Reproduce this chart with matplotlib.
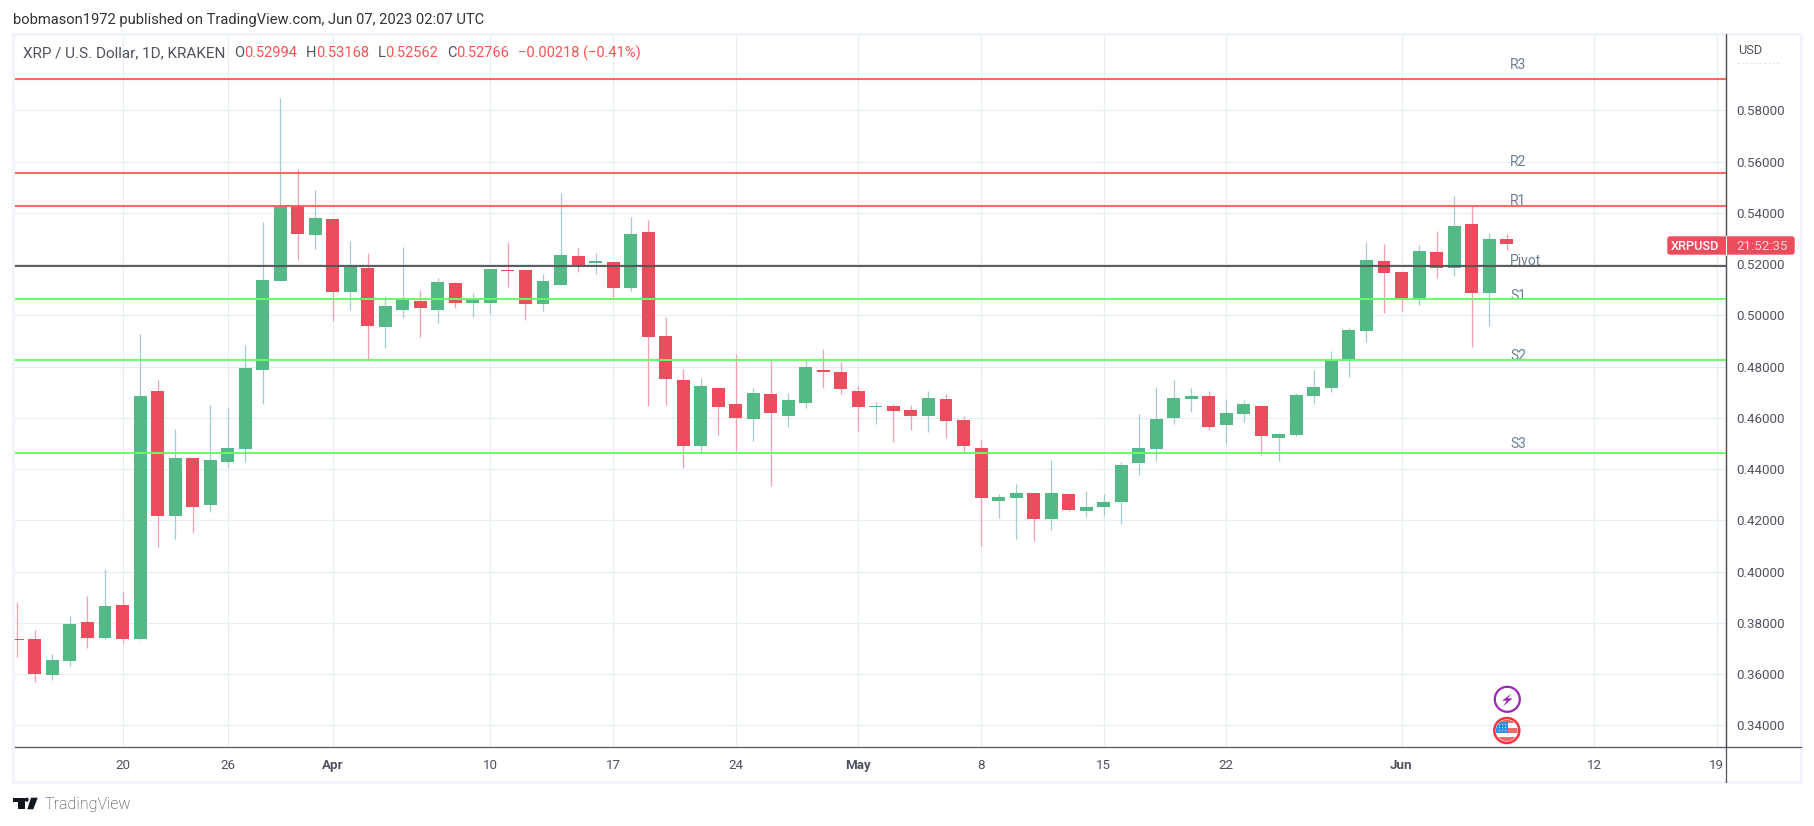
import numpy as np
import matplotlib
matplotlib.use("Agg")
import matplotlib.pyplot as plt
from matplotlib.patches import Rectangle, Circle, FancyBboxPatch, Polygon

plt.rcParams['font.family'] = ['Roboto', 'DejaVu Sans']

# XRP/USD daily candles (14 Mar - 7 Jun 2023)
opens = [.3737, .3737, .3596, .3651, .3803, .3741, .3870, .3737, .4705, .4217,
         .4443, .4260, .4428, .4478, .4787, .5134, .5427, .5314, .5376, .5091,
         .5185, .4955, .5021, .5056, .5021, .5126, .5048, .5048, .5177, .5177,
         .5044, .5118, .5232, .5204, .5208, .5107, .5325, .4919, .4748, .4490,
         .4716, .4654, .4595, .4693, .4607, .4658, .4787, .4779, .4705, .4642,
         .4646, .4631, .4607, .4674, .4592, .4482, .4275, .4287, .4307, .4205,
         .4303, .4236, .4252, .4272, .4424, .4478, .4599, .4674, .4685, .4572,
         .4615, .4646, .4521, .4533, .4685, .4716, .4822, .4939, .5212, .5169,
         .5060, .5247, .5185, .5356, .5087, .52994]
highs = [.3881, .3772, .3678, .3827, .3905, .4010, .3920, .4927, .4748, .4556,
         .4443, .4650, .4638, .4884, .5364, .5848, .5571, .5489, .5376, .5290,
         .5243, .5075, .5267, .5099, .5146, .5130, .5087, .5181, .5286, .5177,
         .5161, .5477, .5263, .5243, .5208, .5384, .5372, .4994, .4791, .4755,
         .4720, .4849, .4716, .4830, .4697, .4826, .4869, .4818, .4724, .4662,
         .4654, .4650, .4705, .4693, .4607, .4514, .4303, .4342, .4307, .4435,
         .4303, .4314, .4303, .4428, .4615, .4720, .4748, .4716, .4705, .4674,
         .4670, .4646, .4539, .4697, .4787, .4861, .4951, .5286, .5278, .5169,
         .5274, .5329, .5466, .5427, .5321, .53168]
lows = [.3667, .3569, .3577, .3632, .3702, .3737, .3721, .3733, .4096, .4127,
        .4151, .4233, .4408, .4428, .4654, .5134, .5216, .5259, .4978, .5021,
        .4822, .4873, .4990, .4915, .4970, .5029, .4994, .5005, .5111, .4982,
        .5017, .5118, .5169, .5161, .5068, .5095, .4646, .4650, .4404, .4459,
        .4533, .4471, .4510, .4334, .4564, .4638, .4716, .4693, .4549, .4576,
        .4506, .4553, .4545, .4521, .4467, .4100, .4209, .4127, .4119, .4162,
        .4236, .4213, .4217, .4186, .4377, .4432, .4576, .4623, .4553, .4498,
        .4584, .4456, .4433, .4527, .4654, .4701, .4759, .4896, .5009, .5017,
        .5040, .5146, .5154, .4876, .4958, .52562]
closes = [.3734, .3600, .3655, .3795, .3741, .3866, .3737, .4685, .4217, .4443,
          .4252, .4435, .4482, .4794, .5138, .5427, .5317, .5380, .5091, .5190,
          .4958, .5036, .5064, .5029, .5130, .5048, .5060, .5181, .5173, .5044,
          .5134, .5235, .5196, .5212, .5107, .5317, .4915, .4752, .4490, .4724,
          .4642, .4599, .4697, .4619, .4670, .4798, .4779, .4713, .4642, .4646,
          .4627, .4607, .4677, .4588, .4490, .4287, .4291, .4307, .4205, .4307,
          .4240, .4252, .4272, .4416, .4482, .4595, .4677, .4685, .4564, .4619,
          .4654, .4527, .4537, .4689, .4720, .4826, .4943, .5216, .5165, .5060,
          .5251, .5185, .5349, .5087, .5298, .52766]

level_names = ["R3", "R2", "R1", "Pivot", "S1", "S2", "S3"]
level_values = [.5922, .5555, .5427, .5193, .5064, .4826, .4463]
level_colors = ["#ff5f5f", "#ff5f5f", "#ff5f5f", "#555555", "#66ff66", "#66ff66", "#66ff66"]

price_ticks = [.34, .36, .38, .40, .42, .44, .46, .48, .50, .52, .54, .56, .58]
date_ticks = [6, 12, 18, 27, 34, 41, 48, 55, 62, 69, 79, 90, 97]
date_labels = ["20", "26", "Apr", "10", "17", "24", "May", "8", "15", "22", "Jun", "12", "19"]
bold_labels = ["Apr", "May", "Jun"]

UP = "#53b987"
DOWN = "#eb4d5c"
UP_WICK = "#a3cbd0"
DOWN_WICK = "#f89cae"
GRID = "#e6eef3"
AXIS = "#50535e"
W, H = 1814, 826

fig = plt.figure(figsize=(W / 100, H / 100), dpi=100, facecolor="white")
ax = fig.add_axes([13.4 / W, 1 - 747.3 / H, (1726 - 13.4) / W, (747.3 - 34) / H])
ax.set_xlim(-0.228, 97.52)
ax.set_ylim(.33141, .60977)

ax.set_xticks(date_ticks)
ax.set_xticklabels(date_labels)
ax.set_yticks(price_ticks)
ax.set_yticklabels(["%.5f" % p for p in price_ticks])
ax.yaxis.tick_right()
ax.tick_params(length=0, labelsize=9.6, labelcolor="#50535e")
ax.tick_params(axis="y", pad=7.5)
ax.tick_params(axis="x", pad=8.5)
for lab in ax.get_xticklabels():
    if lab.get_text() in bold_labels:
        lab.set_fontweight("bold")
ax.grid(True, color=GRID, lw=0.8)
ax.set_axisbelow(True)
for s in ["top", "left"]:
    ax.spines[s].set_visible(False)
for s in ["right", "bottom"]:
    ax.spines[s].set_color(AXIS)
    ax.spines[s].set_linewidth(0.9)

# candles
for i in range(len(opens)):
    up = closes[i] >= opens[i]
    ax.vlines(i, lows[i], highs[i], color=UP_WICK if up else DOWN_WICK, lw=0.9, zorder=2)
    bottom = min(opens[i], closes[i])
    ax.bar(i, max(abs(closes[i] - opens[i]), .0004), width=0.74, bottom=bottom,
           color=UP if up else DOWN, zorder=3)

# pivot levels, the labels do not sit at the same distance from their line
label_gaps = [14, 11.5, 5.3, 5.3, 3, 4, 9.3]
for name, val, col, gap in zip(level_names, level_values, level_colors, label_gaps):
    ax.axhline(val, color=col, lw=1.5, alpha=0.95, zorder=5)
    ax.annotate(name, (85.2, val), xytext=(0, gap), textcoords="offset pixels", fontsize=10,
                color="#6a7f93", va="center", ha="left", zorder=4)

# overlay in pixel coordinates for the page furniture
ov = fig.add_axes([0, 0, 1, 1], facecolor="none")
ov.set_xlim(0, W)
ov.set_ylim(H, 0)
ov.axis("off")

ov.add_patch(Rectangle((12.5, 33.5), 1788.5, 748, fill=False, ec="#f0f3fa", lw=2))
ov.plot([1726, 1726], [34, 782], color=AXIS, lw=0.9)
ov.plot([1726, 1801], [747.3, 747.3], color=AXIS, lw=0.9)

ov.text(13, 20, "bobmason1972 published on TradingView.com, Jun 07, 2023 02:07 UTC",
        fontsize=10.65, color="#333333", va="center")

# legend row
ov.text(23, 53, "XRP / U.S. Dollar, 1D, KRAKEN", fontsize=11, color="#50535e", va="center")
row = [(234, "O", 0), (244, "0.52994", 1), (306, "H", 0), (316, "0.53168", 1),
       (378, "L", 0), (385, "0.52562", 1), (447, "C", 0), (456, "0.52766", 1),
       (518, "\u22120.00218 (\u22120.41%)", 1)]
for x, s, red in row:
    ov.text(x, 53, s, fontsize=10.5, color="#ff5252" if red else "#50535e", va="center")

ov.text(1738, 50, "USD", fontsize=9.2, color="#50535e", va="center")
ov.plot([1737, 1781], [63, 63], color="#dfe3ea", lw=0.8, ls=(0, (2, 2)))

# last price tag
ov.add_patch(FancyBboxPatch((1668, 237), 126, 17, boxstyle="round,pad=0,rounding_size=2",
                            fc=DOWN, ec=DOWN, lw=1))
ov.plot([1725.5, 1725.5], [236, 255], color="white", lw=0.8)
ov.text(1695.3, 246, "XRPUSD", fontsize=9.2, color="white", va="center", ha="center", fontweight="medium")
ov.text(1762.5, 246, "21:52:35", fontsize=9.6, color="#fbd5da", va="center", ha="center")

# event icons under the last candle
ov.add_patch(Circle((1507.3, 699.3), 12.5, fc="white", ec="#9c27b0", lw=1.6))
ov.add_patch(Polygon([[1511.5, 693.5], [1502, 700.7], [1506.7, 700.7], [1503, 706.5],
                      [1512.5, 698.3], [1507.7, 698.3]], fc="#9c27b0", ec="none"))

flag_c = (1506.8, 730.5)
ov.add_patch(Circle(flag_c, 12.5, fc="white", ec="#f23645", lw=1.8, zorder=3))
clip = Circle(flag_c, 10.8, transform=ov.transData)
for y, h in [(719, 4.3), (728.3, 4.4), (737.3, 4.4)]:
    stripe = Rectangle((1494, y), 26, h, fc="#f56b6b", ec="none", zorder=3.1)
    ov.add_patch(stripe)
    stripe.set_clip_path(clip)
canton = Rectangle((1496, 721.7), 12.3, 11, fc="#2f8fe0", ec="none", zorder=3.2)
ov.add_patch(canton)
canton.set_clip_path(clip)
for px in [1499.5, 1502.5, 1505.5]:
    for py in [724.5, 727.5, 730.5]:
        ov.add_patch(Circle((px, py), 0.6, fc="#cfe6fa", ec="none", zorder=3.3))

# TradingView logo
LOGO = "#131722"
ov.add_patch(Polygon([[12.7, 797.7], [25, 797.7], [25, 809.3], [18.3, 809.3], [18.3, 801.7], [12.7, 801.7]],
                     fc=LOGO, ec="none"))
ov.add_patch(Circle((26.7, 799.7), 2, fc=LOGO, ec="none"))
ov.add_patch(Polygon([[31, 797.7], [37.7, 797.7], [33.3, 809.3], [27.3, 809.3]], fc=LOGO, ec="none"))
ov.text(45, 805, "TradingView", fontsize=11.5, color="#2a2e39", va="center", fontweight="light")

fig.savefig("out.png", dpi=100)
